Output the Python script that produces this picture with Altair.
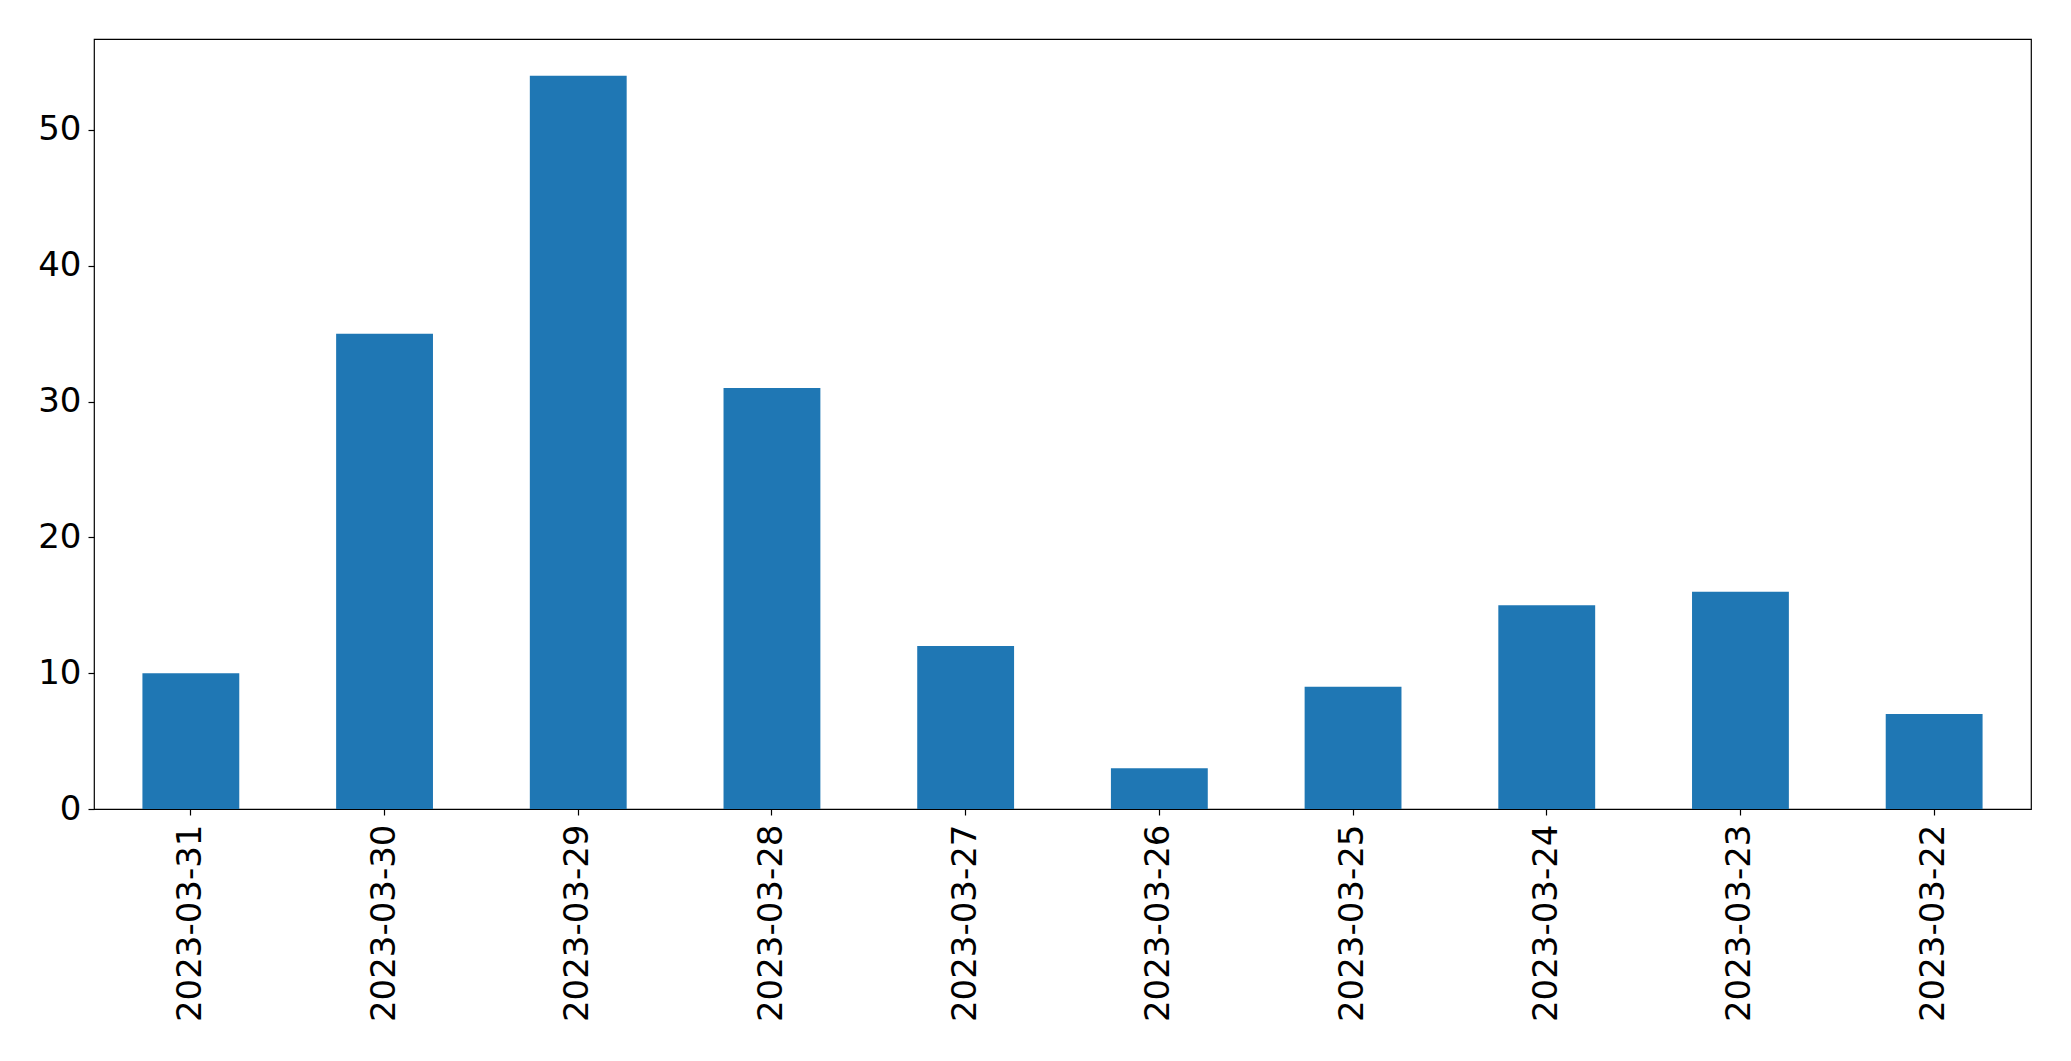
import altair as alt
import pandas as pd

dates = ["2023-03-31", "2023-03-30", "2023-03-29", "2023-03-28", "2023-03-27",
         "2023-03-26", "2023-03-25", "2023-03-24", "2023-03-23", "2023-03-22"]
counts = [10, 35, 54, 31, 12, 3, 9, 15, 16, 7]
y_ticks = [0, 10, 20, 30, 40, 50]

df = pd.DataFrame({"date": dates, "count": counts})

FONT = "DejaVu Sans"

chart = alt.Chart(df).mark_bar(color="#1f77b4").encode(
    x=alt.X("date:N", sort=None, title=None,
            scale=alt.Scale(paddingInner=0.5, paddingOuter=0.25),
            axis=alt.Axis(labelAngle=-90, labelFontSize=34, labelFont=FONT,
                          labelColor="black", tickColor="black", tickSize=6,
                          tickWidth=1.2, labelPadding=9, labelLimit=0, domain=False)),
    y=alt.Y("count:Q", title=None,
            scale=alt.Scale(domain=[0, 56.7], nice=False, zero=True),
            axis=alt.Axis(values=y_ticks, labelFontSize=34, labelFont=FONT,
                          labelColor="black", tickColor="black", tickSize=6,
                          tickWidth=1.2, labelPadding=7, grid=False, domain=False)),
).properties(
    width=1937, height=770,
    background="white",
    autosize=alt.AutoSizeParams(type="none"),
    padding={"left": 86, "top": 31, "right": 30, "bottom": 240},
).configure_view(
    stroke="black", strokeWidth=1.2
)

chart.save("out.html", embed_options={"renderer": "svg", "actions": False})
